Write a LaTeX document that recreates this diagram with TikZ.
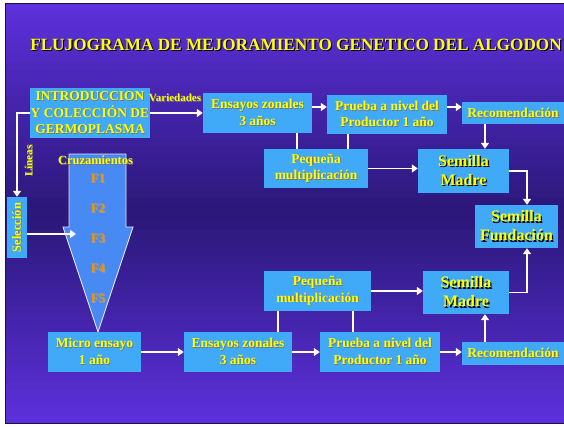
\documentclass[tikz,border=0pt]{standalone}
\usepackage{fontspec}
\setmainfont{Liberation Serif}
\usetikzlibrary{arrows.meta,positioning}
\definecolor{boxblue}{RGB}{64,170,248}
\definecolor{arrowblue}{RGB}{72,138,244}
\definecolor{bgtop}{RGB}{92,48,218}
\definecolor{bgmid}{RGB}{42,24,120}
\definecolor{bgbot}{RGB}{94,48,226}
\definecolor{bgline}{RGB}{30,16,70}
\definecolor{txtyellow}{RGB}{255,255,0}
\definecolor{forange}{RGB}{240,148,0}
\definecolor{edgewhite}{RGB}{230,230,250}
% yellow text with a small drop shadow
\newcommand{\shd}[2][black!55]{\leavevmode\rlap{\kern.8pt\raisebox{-.8pt}{\textcolor{#1}{#2}}}#2}
\newcommand{\shdd}[1]{\leavevmode\rlap{\kern1.2pt\raisebox{-1.2pt}{\textcolor{black}{#1}}}#1}

\begin{document}
\begin{tikzpicture}[x=1pt,y=-1pt,
    box/.style={fill=boxblue,text=txtyellow,align=center,inner sep=0pt,
      font=\bfseries\fontsize{13.5}{16.5}\selectfont},
    seed/.style={box,font=\bfseries\fontsize{16}{19}\selectfont},
    lab/.style={text=txtyellow,inner sep=0pt,font=\bfseries\fontsize{11}{13}\selectfont},
    gen/.style={text=forange,inner sep=0pt,font=\bfseries\fontsize{13}{15}\selectfont},
    link/.style={draw=white,line width=1.6pt},
    arr/.style={link,-{Triangle[length=6pt,width=8pt]}}]
  \useasboundingbox (0,0) rectangle (564,426);
  % background gradient in bands
  \foreach \i in {0,...,49}{
    \pgfmathsetmacro{\mix}{100*abs(\i-24.5)/24.5}
    \fill[bgtop!\mix!bgmid] (5,3+\i*8.42) rectangle (570,3+\i*8.42+8.6);
  }
  \draw[bgline,line width=1.5pt] (5.5,3.5) rectangle (570,423.5);

  \node[text=txtyellow,font=\bfseries\fontsize{17.2}{20}\selectfont] (title) at (296,45)
    {\shdd{FLUJOGRAMA DE MEJORAMIENTO GENETICO DEL ALGODON}};

  % crossing arrow
  \draw[edgewhite,fill=arrowblue,line width=0.8pt] (69,154) -- (126,154) -- (126,227)
    -- (133,227) -- (98,332) -- (63,227) -- (69,227) -- cycle;
  \node[lab,font=\bfseries\fontsize{12.5}{14}\selectfont] (cruz) at (95.5,161) {\shd{Cruzamientos}};
  \node[gen] (f1) at (98,179) {\shd[black!40]{F1}};
  \node[gen] (f2) at (98,209) {\shd[black!40]{F2}};
  \node[gen] (f3) at (98,239) {\shd[black!40]{F3}};
  \node[gen] (f4) at (98,269) {\shd[black!40]{F4}};
  \node[gen] (f5) at (98,299) {\shd[black!40]{F5}};

  % top row
  \node[box,minimum width=120pt,minimum height=50pt] (intro) at (90,113)
    {\shd{INTRODUCCION}\\\shd{Y COLECCIÓN DE}\\\shd{GERMOPLASMA}};
  \node[box,minimum width=109pt,minimum height=40pt] (ens1) at (257.5,113)
    {\shd{Ensayos zonales}\\\shd{3 años}};
  \node[box,minimum width=120pt,minimum height=39pt] (prue1) at (387,114.5)
    {\shd{Prueba a nivel del}\\\shd{Productor 1 año}};
  \node[box,minimum width=102pt,minimum height=22pt] (rec1) at (513,113) {\shd{Recomendación}};
  \node[box,minimum width=104pt,minimum height=39pt] (peq1) at (316,168.5)
    {\shd{Pequeña}\\\shd{multiplicación}};
  \node[seed,minimum width=91pt,minimum height=44pt] (mad1) at (463.5,171)
    {\shdd{Semilla}\\\shdd{Madre}};
  \node[seed,minimum width=83pt,minimum height=43pt] (fund) at (516.5,226.5)
    {\shdd{Semilla}\\\shdd{Fundación}};

  % bottom row
  \node[box,minimum width=107pt,minimum height=40pt] (peq2) at (317.5,291)
    {\shd{Pequeña}\\\shd{multiplicación}};
  \node[seed,minimum width=86pt,minimum height=43pt] (mad2) at (466,292.5)
    {\shdd{Semilla}\\\shdd{Madre}};
  \node[box,minimum width=93pt,minimum height=40pt] (micro) at (94.5,352)
    {\shd{Micro ensayo}\\\shd{1 año}};
  \node[box,minimum width=108pt,minimum height=40pt] (ens2) at (238,352)
    {\shd{Ensayos zonales}\\\shd{3 años}};
  \node[box,minimum width=120pt,minimum height=40pt] (prue2) at (380,352)
    {\shd{Prueba a nivel del}\\\shd{Productor 1 año}};
  \node[box,minimum width=102pt,minimum height=23pt] (rec2) at (513,353.5) {\shd{Recomendación}};

  % selection
  \node[box,minimum width=20pt,minimum height=61pt,font=\bfseries\fontsize{12.5}{14}\selectfont]
    (sel) at (17,227.5) {\rotatebox{90}{\shd{Selección}}};
  \node[lab] (var) at (175,98) {\shd{Variedades}};
  \node[lab] (lin) at (29,161) {\rotatebox{90}{\shd{Líneas}}};

  \coordinate (row1) at (0,107);
  \coordinate (colrec) at (485,0);
  \coordinate (colfund) at (527,0);
  \coordinate (cruzin) at (76,234);

  \path[every edge/.style=arr]
    (intro.east) edge (ens1.west)
    (row1 -| ens1.east) edge (row1 -| prue1.west)
    (row1 -| prue1.east) edge (row1 -| rec1.west)
    (colrec |- rec1.south) edge (colrec |- mad1.north)
    (peq1.east) edge (peq1.east -| mad1.west)
    % bottom edges
    (micro.east) edge (ens2.west)
    (ens2.east) edge (prue2.west)
    (prue2.east) edge (prue2.east -| rec2.west)
    (colrec |- rec2.north) edge (colrec |- mad2.south)
    (peq2.east) edge (peq2.east -| mad2.west)
    (sel.east |- cruzin) edge (cruzin);
  \draw[arr] (intro.west) -| (sel.north);
  \draw[arr] (mad1.east) -| (colfund |- fund.north);
  \draw[arr] (mad2.east) -| (colfund |- fund.south);
  % plain links to the small multiplication boxes
  \path[every edge/.style=link]
    (297,0 |- ens1.south) edge (297,0 |- peq1.north)
    (348,0 |- prue1.south) edge (348,0 |- peq1.north)
    (278,0 |- ens2.north) edge (278,0 |- peq2.south)
    (353,0 |- prue2.north) edge (353,0 |- peq2.south);
\end{tikzpicture}
\end{document}
